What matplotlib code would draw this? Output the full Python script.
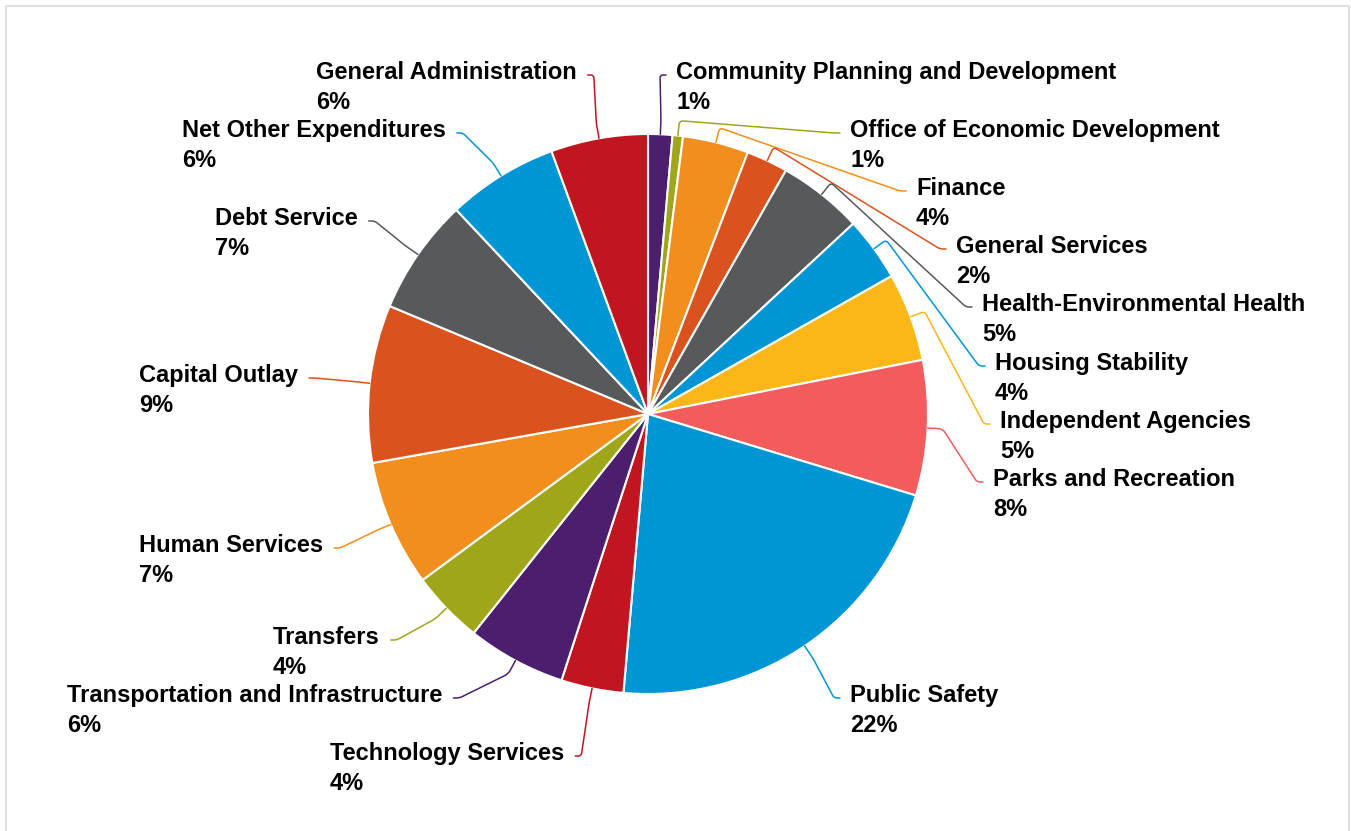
import numpy as np
import matplotlib.pyplot as plt
from matplotlib.path import Path
from matplotlib.patches import PathPatch

W, H = 1351, 831

categories = [
    "Community Planning and Development",
    "Office of Economic Development",
    "Finance",
    "General Services",
    "Health-Environmental Health",
    "Housing Stability",
    "Independent Agencies",
    "Parks and Recreation",
    "Public Safety",
    "Technology Services",
    "Transportation and Infrastructure",
    "Transfers",
    "Human Services",
    "Capital Outlay",
    "Debt Service",
    "Net Other Expenditures",
    "General Administration",
]
shares = [1.4, 0.6, 3.8, 2.4, 4.9, 3.7, 5.1, 7.8, 21.7,
          3.6, 5.7, 4.2, 7.3, 9.1, 6.7, 6.4, 5.6]

colors = ["#4b1e6e", "#a0a61a", "#f28e1e", "#da531e", "#58595b", "#0096d6",
          "#fbb717", "#f25c5c", "#0096d6", "#c1161f", "#4b1e6e", "#a0a61a",
          "#f28e1e", "#da531e", "#58595b", "#0096d6", "#c1161f"]

# label placement in pixels: left edge, first baseline (from top), side of pie
label_left = [676, 850, 916, 956, 982, 995, 1000, 993, 850,
              330, 67, 273, 139, 139, 215, 182, 316]
label_base = [79, 137, 195, 253, 311, 370, 428, 486, 702,
              760, 702, 644, 552, 382, 225, 137, 79]
label_side = ["R"] * 9 + ["L"] * 8


def rounded_path(pts, r=4.0):
    """Polyline through pts with small rounded corners."""
    pts = [np.asarray(p, float) for p in pts]
    verts, codes = [pts[0]], [Path.MOVETO]
    for k in range(1, len(pts) - 1):
        a, b, c = pts[k - 1], pts[k], pts[k + 1]
        d1 = np.linalg.norm(b - a)
        d2 = np.linalg.norm(c - b)
        rr = min(r, d1 / 2, d2 / 2)
        p_in = b + (a - b) / d1 * rr if d1 else b
        p_out = b + (c - b) / d2 * rr if d2 else b
        verts += [p_in, b, p_out]
        codes += [Path.LINETO, Path.CURVE3, Path.CURVE3]
    verts.append(pts[-1])
    codes.append(Path.LINETO)
    return Path(verts, codes)


fig = plt.figure(figsize=(W / 100, H / 100), dpi=100)
ax = fig.add_axes([0, 0, 1, 1])

cx, cy, rad = 648, H - 414, 280
wedges, _ = ax.pie(shares, colors=colors, startangle=90, counterclock=False,
                   center=(cx, cy), radius=rad,
                   wedgeprops=dict(edgecolor="white", linewidth=1.5))
ax.set_xlim(0, W)
ax.set_ylim(0, H)
ax.axis("off")

# light frame around the chart area
ax.plot([6, 6, W - 2, W - 2], [-5, H - 6, H - 6, -5], color="#d9d9d9",
        lw=1.2, clip_on=False)

font = dict(fontsize=17, fontweight="bold", family=["Liberation Sans", "DejaVu Sans"],
            color="black")
renderer = fig.canvas.get_renderer()
inv = ax.transData.inverted()

for i, name in enumerate(categories):
    x0 = label_left[i]
    yb = H - label_base[i]
    t = ax.text(x0, yb, name, ha="left", va="baseline", **font)
    ax.text(x0, yb - 30, f"{round(shares[i])}%", ha="left", va="baseline", **font)

    w = wedges[i]
    mid = np.deg2rad((w.theta1 + w.theta2) / 2)
    ux, uy = np.cos(mid), np.sin(mid)
    ex, ey = cx + rad * ux, cy + rad * uy
    if label_side[i] == "R":
        ax_, ay_ = x0 - 10, yb + 4
        hx = ax_ - 6
    else:
        bb = t.get_window_extent(renderer)
        right = inv.transform((bb.x1, bb.y0))[0]
        ax_, ay_ = right + 11, yb + 4
        hx = ax_ + 6
    pts = [(ex, ey), (ex + 15 * ux, ey + 15 * uy), (hx, ay_), (ax_, ay_)]
    ax.add_patch(PathPatch(rounded_path(pts), facecolor="none",
                           edgecolor=colors[i], lw=1.1, capstyle="round"))

fig.savefig("out.png", dpi=100, facecolor="white")
